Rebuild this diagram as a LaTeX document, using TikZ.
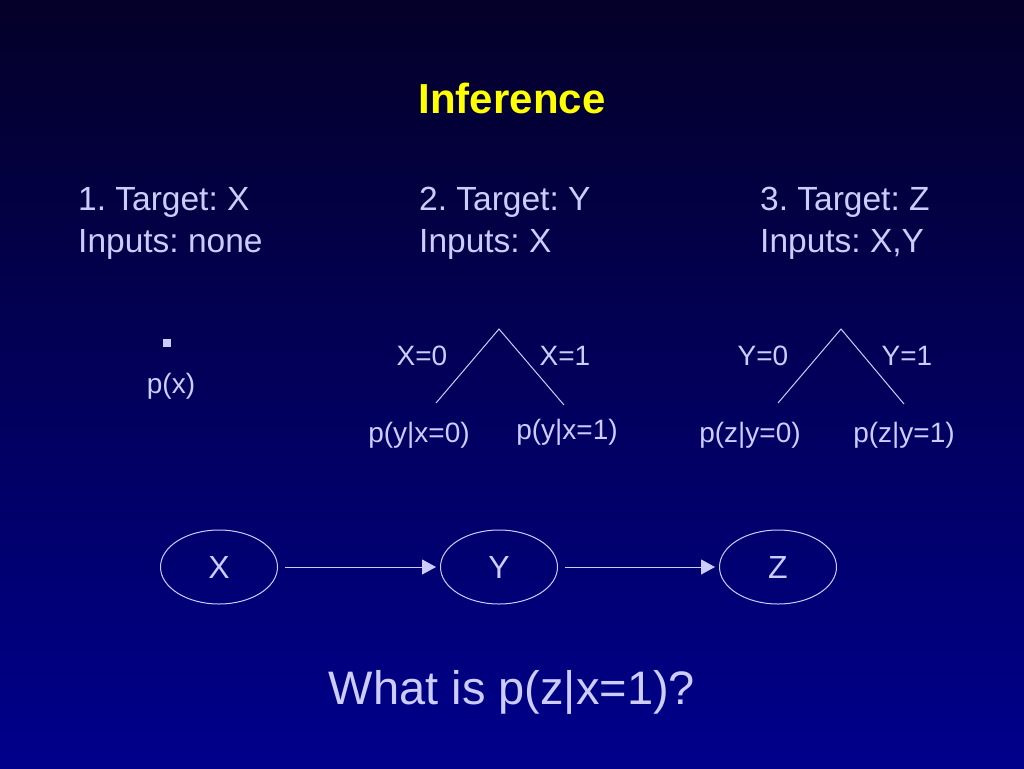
\documentclass[tikz,border=0pt]{standalone}
\usepackage{fontspec}
\setmainfont{Liberation Sans}
\frenchspacing
\usetikzlibrary{shapes.geometric,arrows.meta}
\definecolor{lav}{RGB}{204,204,255}
\definecolor{bgtop}{RGB}{4,0,40}
\definecolor{bgbot}{RGB}{0,0,140}
\definecolor{ttl}{RGB}{255,255,0}
\tikzset{
  head/.style={anchor=base west, align=left, text=lav, inner sep=0pt, font=\fontsize{33.5}{42}\selectfont},
  lab/.style={text=lav, inner sep=0pt, font=\fontsize{28}{32}\selectfont},
  var/.style={ellipse, draw=lav, line width=1pt, minimum width=117pt, minimum height=74pt, inner sep=0pt, text=lav, font=\fontsize{32}{34}\selectfont},
  branch/.style={draw=lav, line width=1pt}
}
\begin{document}
\begin{tikzpicture}[x=1pt, y=-1pt, >={Triangle[length=14pt,width=15pt]}]
\shade[top color=bgtop, bottom color=bgbot] (0,0) rectangle (1024,768);
\useasboundingbox (0,0) rectangle (1024,768);
% title
\node (title) at (512,98) [text=ttl, inner sep=0pt, font=\fontsize{42}{46}\selectfont\bfseries] {Inference};
% the three steps
\node (s1) at (78,252) [head] {1. Target: X\\Inputs: none};
\node (s2) at (419,252) [head] {2. Target: Y\\Inputs: X};
\node (s3) at (760,252) [head] {3. Target: Z\\Inputs: X,Y};
% step 1
\node (dot) at (167,343) [fill=lav, minimum size=8pt, inner sep=0pt] {};
\node (px) at (171,386) [lab] {p(x)};
% step 2
\coordinate (ya) at (499,329);
\coordinate (yl) at (436,403);
\coordinate (yr) at (564,405);
\draw[branch] (yl) -- (ya) -- (yr);
\node (x0) at (422,356) [lab] {X=0};
\node (x1) at (565,356) [lab] {X=1};
\node (py0) at (419,435) [lab] {p(y|x=0)};
\node (py1) at (567,432) [lab] {p(y|x=1)};
% step 3
\coordinate (za) at (841,329);
\coordinate (zl) at (778,403);
\coordinate (zr) at (904,404);
\draw[branch] (zl) -- (za) -- (zr);
\node (y0) at (763,356) [lab] {Y=0};
\node (y1) at (907,356) [lab] {Y=1};
\node (pz0) at (750,435) [lab] {p(z|y=0)};
\node (pz1) at (904,435) [lab] {p(z|y=1)};
% the chain
\node (X) at (219,567) [var] {X};
\node (Y) at (499,567) [var] {Y};
\node (Z) at (778,567) [var] {Z};
\draw[->, draw=lav, fill=lav, line width=1pt, shorten <=7pt, shorten >=4pt] (X) -- (Y);
\draw[->, draw=lav, fill=lav, line width=1pt, shorten <=7pt, shorten >=4pt] (Y) -- (Z);
% question
\node (q) at (512,692) [text=lav, inner sep=0pt, font=\fontsize{47}{52}\selectfont] {What is p(z|x=1)?};
\end{tikzpicture}
\end{document}
